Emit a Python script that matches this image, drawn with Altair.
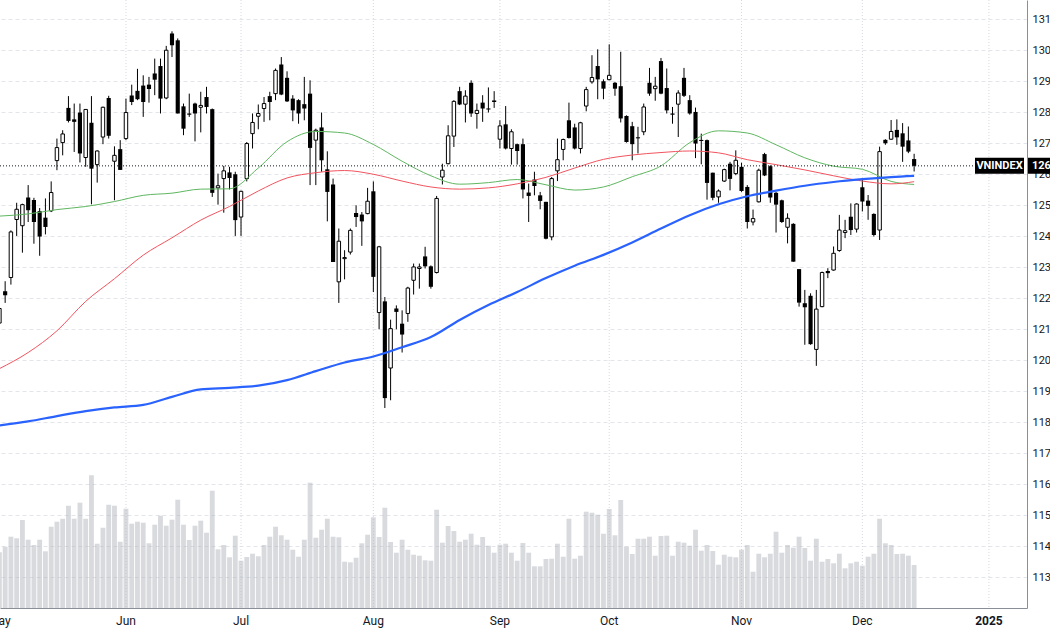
import altair as alt
import pandas as pd

# ---- daily candles (index 0 = 2 May 2024 ... 159 = 13 Dec 2024) ----
opens = [1212.0, 1222.3, 1226.7, 1245.4, 1243.4, 1252.5, 1251.7, 1248.1, 1246.0, 1248.2,
         1264.4, 1270.2, 1281.4, 1277.7, 1279.9, 1265.4, 1276.6, 1263.1, 1272.0, 1284.6,
         1264.2, 1268.1, 1271.5, 1285.4, 1286.9, 1288.6, 1288.9, 1292.5, 1294.9, 1284.6,
         1305.4, 1303.2, 1281.9, 1279.6, 1282.8, 1281.6, 1284.9, 1281.0, 1255.6, 1258.6,
         1260.6, 1260.0, 1246.2, 1258.6, 1273.1, 1278.7, 1281.2, 1285.2, 1286.0, 1295.4,
         1291.1, 1284.4, 1283.9, 1282.6, 1286.0, 1271.0, 1275.1, 1261.6, 1256.7, 1225.3,
         1232.8, 1234.9, 1247.5, 1247.0, 1247.3, 1254.5, 1215.4, 1219.0, 1197.5, 1216.7,
         1211.8, 1215.1, 1225.8, 1229.6, 1233.5, 1230.3, 1228.3, 1259.1, 1263.4, 1272.3,
         1286.8, 1282.6, 1289.5, 1279.6, 1283.1, 1281.2, 1283.8, 1271.3, 1276.1, 1268.3,
         1269.7, 1269.7, 1254.1, 1258.3, 1253.2, 1251.1, 1239.8, 1261.1, 1268.0, 1277.4,
         1275.1, 1268.3, 1282.0, 1289.8, 1294.9, 1290.0, 1290.5, 1289.5, 1288.4, 1278.8,
         1275.5, 1271.9, 1273.7, 1289.5, 1287.6, 1296.5, 1287.8, 1279.6, 1282.6, 1291.1,
         1283.9, 1280.1, 1271.0, 1271.0, 1260.5, 1252.7, 1257.8, 1263.4, 1260.2, 1262.4,
         1255.9, 1244.6, 1251.1, 1266.5, 1262.6, 1254.0, 1251.6, 1242.9, 1244.0, 1229.4,
         1218.4, 1220.8, 1203.5, 1217.3, 1228.8, 1229.1, 1235.4, 1241.2, 1246.3, 1242.3,
         1255.8, 1251.5, 1247.2, 1242.0, 1271.1, 1271.3, 1274.3, 1273.2, 1270.9, 1264.9]
highs = [1218.0, 1225.5, 1241.9, 1250.8, 1250.5, 1256.5, 1252.4, 1249.1, 1252.2, 1257.7,
         1271.5, 1274.2, 1285.2, 1282.8, 1282.8, 1281.0, 1285.2, 1267.7, 1281.8, 1285.3,
         1269.0, 1271.0, 1284.4, 1288.9, 1294.0, 1291.9, 1291.4, 1297.3, 1297.3, 1301.4,
         1306.1, 1303.8, 1282.8, 1286.0, 1283.1, 1286.6, 1288.2, 1281.2, 1260.2, 1262.7,
         1262.4, 1260.8, 1254.7, 1270.4, 1279.6, 1282.5, 1284.9, 1286.6, 1294.1, 1297.8,
         1293.2, 1285.5, 1284.2, 1291.4, 1290.3, 1274.7, 1279.9, 1267.4, 1258.6, 1242.5,
         1235.5, 1242.5, 1250.0, 1247.8, 1255.6, 1257.7, 1236.9, 1220.4, 1213.1, 1217.7,
         1216.1, 1223.7, 1231.2, 1231.2, 1236.6, 1230.6, 1253.0, 1263.4, 1275.8, 1283.9,
         1288.2, 1287.1, 1290.3, 1282.8, 1285.5, 1288.0, 1286.8, 1277.4, 1282.0, 1274.5,
         1269.9, 1271.5, 1257.0, 1260.8, 1254.3, 1251.1, 1259.1, 1271.5, 1271.5, 1283.1,
         1276.3, 1276.9, 1288.2, 1298.4, 1300.3, 1290.6, 1301.9, 1289.8, 1299.5, 1279.0,
         1276.9, 1275.3, 1282.8, 1294.3, 1291.4, 1297.5, 1294.1, 1281.7, 1287.1, 1294.3,
         1285.5, 1281.5, 1273.1, 1271.2, 1260.5, 1255.1, 1261.8, 1264.0, 1267.7, 1263.7,
         1256.5, 1248.6, 1261.8, 1266.9, 1262.9, 1254.3, 1251.8, 1247.4, 1244.2, 1229.4,
         1222.7, 1221.6, 1222.7, 1228.6, 1229.7, 1236.7, 1246.9, 1245.3, 1250.6, 1250.6,
         1258.2, 1253.3, 1247.4, 1268.9, 1271.3, 1277.5, 1277.7, 1276.5, 1275.4, 1266.6]
lows = [1210.0, 1218.5, 1224.4, 1240.1, 1234.7, 1244.6, 1237.6, 1233.7, 1240.6, 1247.8,
        1261.3, 1266.1, 1276.7, 1267.2, 1263.8, 1262.4, 1250.3, 1257.3, 1269.7, 1271.5,
        1251.6, 1261.4, 1271.0, 1282.3, 1283.9, 1278.5, 1283.1, 1285.5, 1279.6, 1284.2,
        1297.8, 1279.6, 1272.6, 1278.5, 1270.6, 1273.5, 1279.6, 1252.7, 1250.2, 1247.6,
        1255.1, 1240.1, 1240.1, 1257.7, 1268.3, 1274.5, 1276.9, 1277.4, 1283.9, 1285.5,
        1283.3, 1277.1, 1276.3, 1277.4, 1256.5, 1256.5, 1260.8, 1244.8, 1231.7, 1218.5,
        1226.1, 1234.1, 1243.0, 1236.9, 1247.1, 1222.0, 1210.0, 1184.6, 1187.1, 1210.0,
        1202.5, 1212.4, 1221.2, 1223.1, 1229.6, 1223.1, 1228.0, 1256.7, 1263.2, 1268.8,
        1282.3, 1276.7, 1278.5, 1274.7, 1276.9, 1279.9, 1281.4, 1268.3, 1268.0, 1263.1,
        1263.1, 1252.2, 1244.6, 1253.2, 1248.7, 1239.0, 1238.7, 1257.8, 1264.5, 1271.5,
        1268.0, 1266.7, 1280.3, 1289.2, 1284.2, 1284.2, 1290.3, 1285.3, 1276.7, 1270.2,
        1264.5, 1266.7, 1272.6, 1285.3, 1283.7, 1285.8, 1279.6, 1276.3, 1272.0, 1284.9,
        1279.2, 1265.2, 1263.2, 1251.8, 1251.6, 1250.8, 1257.5, 1254.8, 1259.7, 1254.3,
        1242.5, 1243.5, 1250.9, 1259.4, 1250.8, 1241.2, 1244.3, 1237.7, 1231.8, 1217.3,
        1205.0, 1205.0, 1198.2, 1217.1, 1226.5, 1228.9, 1235.0, 1239.4, 1240.4, 1241.2,
        1248.0, 1245.3, 1239.9, 1238.8, 1269.5, 1271.1, 1269.5, 1264.0, 1266.8, 1260.9]
closes = [1216.7, 1221.0, 1241.4, 1248.7, 1250.2, 1248.4, 1244.6, 1239.9, 1243.0, 1254.1,
          1268.6, 1273.0, 1277.2, 1276.9, 1266.7, 1280.9, 1261.8, 1267.5, 1281.6, 1272.4,
          1266.1, 1261.4, 1279.9, 1283.3, 1284.2, 1283.3, 1287.5, 1290.5, 1284.4, 1300.0,
          1301.6, 1279.6, 1274.7, 1279.2, 1279.6, 1282.2, 1281.7, 1254.0, 1256.3, 1261.1,
          1258.8, 1245.2, 1254.5, 1269.9, 1276.7, 1279.6, 1282.8, 1283.3, 1293.5, 1285.7,
          1283.5, 1280.6, 1279.6, 1281.2, 1268.5, 1274.2, 1264.5, 1254.3, 1231.7, 1238.4,
          1233.1, 1241.9, 1246.2, 1244.8, 1251.3, 1226.9, 1236.6, 1187.8, 1210.2, 1215.6,
          1208.3, 1223.3, 1230.1, 1230.1, 1230.3, 1223.7, 1252.2, 1261.3, 1272.4, 1283.5,
          1282.5, 1285.2, 1279.6, 1280.6, 1281.2, 1280.9, 1283.3, 1275.6, 1268.3, 1273.7,
          1267.5, 1255.1, 1253.0, 1256.2, 1251.4, 1239.2, 1258.6, 1264.7, 1271.2, 1271.7,
          1268.3, 1276.6, 1287.3, 1291.2, 1290.6, 1287.6, 1291.9, 1287.6, 1278.0, 1270.4,
          1269.7, 1271.6, 1281.7, 1286.0, 1288.4, 1286.0, 1280.6, 1279.2, 1286.2, 1285.3,
          1279.6, 1269.9, 1270.8, 1257.2, 1252.4, 1254.6, 1261.5, 1258.5, 1264.5, 1254.6,
          1244.6, 1245.7, 1261.3, 1259.6, 1252.5, 1250.2, 1244.6, 1245.8, 1231.8, 1218.6,
          1217.1, 1205.2, 1216.5, 1228.3, 1228.1, 1234.5, 1242.0, 1241.8, 1242.0, 1250.4,
          1251.2, 1249.8, 1240.4, 1267.3, 1270.0, 1273.8, 1271.9, 1268.9, 1267.3, 1262.7]
volumes = [557, 613, 713, 697, 880, 683, 630, 683, 567, 813,
           863, 893, 1023, 893, 1053, 893, 1327, 643, 803, 1033,
           1023, 663, 993, 843, 863, 853, 647, 833, 923, 823,
           883, 1083, 833, 680, 823, 873, 753, 1173, 587, 630,
           507, 723, 473, 510, 543, 517, 630, 713, 813, 727,
           683, 583, 513, 683, 1253, 703, 783, 893, 713, 707,
           463, 457, 503, 647, 733, 907, 710, 1003, 660, 553,
           683, 583, 533, 523, 477, 473, 983, 653, 820, 770,
           663, 683, 743, 633, 710, 623, 553, 633, 643, 553,
           473, 650, 553, 417, 417, 490, 493, 643, 513, 893,
           493, 523, 963, 953, 933, 743, 990, 727, 1080, 613,
           540, 693, 693, 713, 523, 720, 723, 523, 663, 653,
           623, 783, 573, 630, 570, 433, 533, 513, 507, 583,
           630, 363, 543, 507, 543, 763, 553, 630, 603, 713,
           600, 473, 693, 463, 490, 447, 543, 397, 447, 463,
           423, 513, 543, 893, 647, 630, 540, 543, 523, 430]

# ---- moving averages (bar index -> value) ----
ma_index = [0, 5, 10, 15, 20, 25, 30, 35, 40, 45, 50, 55, 60, 65, 70, 75, 80, 85, 90, 95,
            100, 105, 110, 115, 120, 125, 130, 135, 140, 145, 150, 155, 159]
ma20 = [1246.5, 1247.2, 1248.6, 1249.6, 1251.2, 1253.2, 1253.9, 1255.2, 1255.3, 1262.0,
        1270.5, 1273.8, 1273.3, 1269.6, 1264.2, 1259.5, 1256.8, 1257.3, 1258.3, 1256.6,
        1254.9, 1255.9, 1259.2, 1262.7, 1270.2, 1274.0, 1273.3, 1269.5, 1265.3, 1262.6,
        1261.6, 1257.7, 1256.7]
ma50 = [1197.3, 1202.5, 1209.5, 1219.0, 1226.3, 1233.9, 1239.5, 1245.2, 1249.6, 1254.6,
        1258.8, 1260.5, 1261.2, 1260.0, 1257.8, 1255.9, 1255.2, 1255.6, 1256.9, 1259.0,
        1262.0, 1264.8, 1266.2, 1267.0, 1267.5, 1266.9, 1264.7, 1263.1, 1261.4, 1259.5,
        1257.8, 1256.9, 1257.6]
ma200 = [1179.0, 1180.3, 1182.0, 1183.6, 1184.8, 1185.6, 1188.2, 1190.6, 1191.1, 1191.8,
         1193.6, 1196.5, 1199.3, 1201.2, 1204.2, 1207.5, 1213.0, 1217.8, 1222.0, 1226.5,
         1230.5, 1234.0, 1238.0, 1242.5, 1246.8, 1250.3, 1252.9, 1254.7, 1256.3, 1257.5,
         1258.4, 1259.1, 1259.5]

# ---- axis labels ----
month_labels = ["May", "Jun", "Jul", "Aug", "Sep", "Oct", "Nov", "Dec"]
month_index = [0, 22, 42, 65, 87, 106, 129, 150]
year_labels = ["2025"]
year_index = [172]
price_ticks = list(range(1130, 1311, 10))
symbol = "VNINDEX"

# ---- build tables ----
df = pd.DataFrame({"idx": range(len(closes)), "open": opens, "high": highs,
                   "low": lows, "close": closes, "volume": volumes})
df["up"] = df["close"] >= df["open"]
top = df[["open", "close"]].max(axis=1)
bot = df[["open", "close"]].min(axis=1)
mid = (top + bot) / 2
small = (top - bot) < 0.35
df["btop"] = top.where(~small, mid + 0.175)
df["bbot"] = bot.where(~small, mid - 0.175)
half = df["up"].map({True: 0.30, False: 0.36})
df["x0"] = df["idx"] - half
df["x1"] = df["idx"] + half
df["vx0"] = df["idx"] - 0.42
df["vx1"] = df["idx"] + 0.42
df["v0"] = 0

ma20_df = pd.DataFrame({"idx": ma_index, "v": ma20})
ma50_df = pd.DataFrame({"idx": ma_index, "v": ma50})
ma200_df = pd.DataFrame({"idx": ma_index, "v": ma200})
last_df = pd.DataFrame({"p": [closes[-1]], "plabel": [f"{closes[-1]:.2f}"]})
month_df = pd.DataFrame({"idx": month_index, "label": month_labels})
year_df = pd.DataFrame({"idx": year_index, "label": year_labels})
grid_x_df = pd.DataFrame({"idx": month_index + year_index})

W, H = 1027, 608
AXIS_COL = "#8a8e97"
TXT = "#131722"

xs = alt.Scale(domain=[0.104, 178.62], nice=False, zero=False)
ys = alt.Scale(domain=[1120.1, 1316.2], nice=False, zero=False)
xaxis = alt.Axis(values=[], labels=False, ticks=False, grid=False, domain=True,
                 domainColor=AXIS_COL, title=None)
yaxis = alt.Axis(orient="right", values=price_ticks, format=".2f", grid=True,
                 gridColor="#e3e5ea", gridDash=[4, 3], ticks=False, domain=True,
                 domainColor=AXIS_COL, labelFont="Roboto", labelFontSize=11,
                 labelColor=TXT, labelPadding=5, title=None, labelOverlap=False)


def X(f):
    return alt.X(f"{f}:Q", scale=xs, axis=xaxis)


def Y(f):
    return alt.Y(f"{f}:Q", scale=ys, axis=yaxis)


month_rules = alt.Chart(grid_x_df).mark_rule(color="#d6d8de", strokeDash=[1, 2], strokeWidth=1).encode(
    x=X("idx"), y=alt.value(0), y2=alt.value(H))

vol = alt.Chart(df).mark_rect(color="#b2b5be", opacity=0.5).encode(
    x=X("vx0"), x2="vx1",
    y=alt.Y("volume:Q", scale=alt.Scale(domain=[0, 6080], nice=False, zero=True), axis=None),
    y2="v0")

wicks = alt.Chart(df).mark_rule(color="#000000", strokeWidth=1).encode(
    x=X("idx"), y=Y("low"), y2="high")
up = alt.Chart(df).transform_filter("datum.up").mark_rect(
    fill="#ffffff", stroke="#000000", strokeWidth=1).encode(
    x=X("x0"), x2="x1", y=Y("bbot"), y2="btop")
down = alt.Chart(df).transform_filter("!datum.up").mark_rect(color="#000000").encode(
    x=X("x0"), x2="x1", y=Y("bbot"), y2="btop")

l20 = alt.Chart(ma20_df).mark_line(color="#5fb760", strokeWidth=1, interpolate="monotone").encode(
    x=X("idx"), y=Y("v"))
l50 = alt.Chart(ma50_df).mark_line(color="#f2545f", strokeWidth=1, interpolate="monotone").encode(
    x=X("idx"), y=Y("v"))
l200 = alt.Chart(ma200_df).mark_line(color="#2962ff", strokeWidth=2.2, interpolate="monotone").encode(
    x=X("idx"), y=Y("v"))

dotted = alt.Chart(last_df).mark_rule(color=TXT, strokeDash=[1, 2], strokeWidth=1).encode(
    y=Y("p"), x=alt.value(0), x2=alt.value(975))
box1 = alt.Chart(last_df).mark_rule(color="#000000", strokeWidth=16).encode(
    y=Y("p"), x=alt.value(975), x2=alt.value(1024))
box2 = alt.Chart(last_df).mark_rule(color="#000000", strokeWidth=16).encode(
    y=Y("p"), x=alt.value(1028), x2=alt.value(1070))
t1 = alt.Chart(last_df).mark_text(text=symbol, color="#ffffff", font="Roboto", fontSize=11,
                                  fontWeight="bold", align="center", baseline="middle").encode(
    y=Y("p"), x=alt.value(999.5))
t2 = alt.Chart(last_df).mark_text(color="#ffffff", font="Roboto", fontSize=11, fontWeight="bold",
                                  align="left", baseline="middle").encode(
    y=Y("p"), x=alt.value(1032), text="plabel:N")

price = alt.layer(wicks, up, down, l20, l50, l200, dotted, box1, box2, t1, t2)

mtext = alt.Chart(month_df).mark_text(color=TXT, font="Roboto", fontSize=12, align="center",
                                      baseline="middle").encode(
    x=X("idx"), y=alt.value(621), text="label:N")
ytext = alt.Chart(year_df).mark_text(color=TXT, font="Roboto", fontSize=12, fontWeight="bold",
                                     align="center", baseline="middle").encode(
    x=X("idx"), y=alt.value(621), text="label:N")

chart = alt.layer(month_rules, vol, price, mtext, ytext).resolve_scale(y="independent").properties(
    width=W, height=H,
    autosize=alt.AutoSizeParams(type="none"),
    padding={"left": 0, "top": 0, "right": 23, "bottom": 22},
    background="#ffffff",
).configure_view(stroke=None)

chart.save("out.html", embed_options={"renderer": "svg", "actions": False})
